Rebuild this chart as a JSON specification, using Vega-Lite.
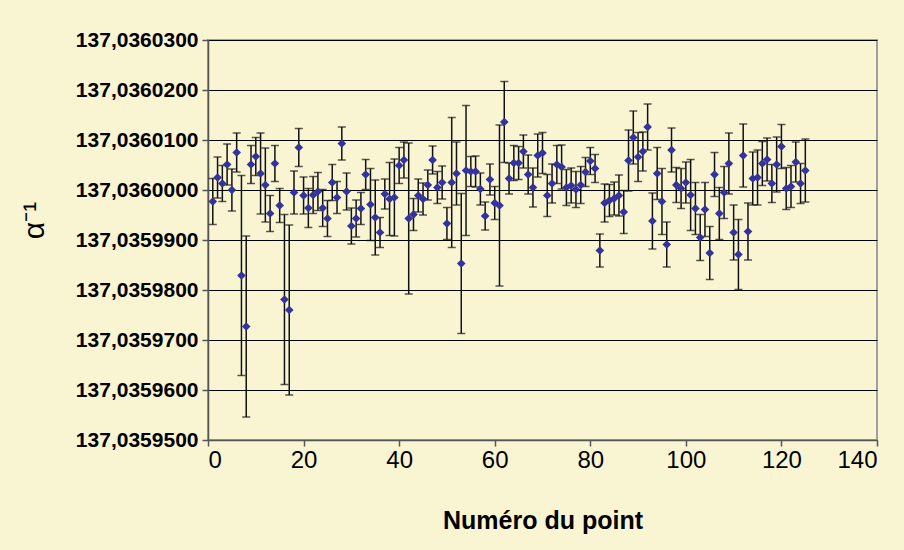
{
  "$schema": "https://vega.github.io/schema/vega-lite/v6.json",
  "width": 669,
  "height": 400,
  "autosize": {"type": "none"},
  "padding": {"left": 208, "top": 40, "right": 27, "bottom": 110},
  "background": "#F9F5D3",
  "config": {
    "view": {"stroke": "#A0A0A0", "strokeWidth": 2, "fill": "#F9F5D3"},
    "font": "Liberation Sans"
  },
  "data": {"values": [
    {"n":1,"a":137.0359977,"e":0.0000046},{"n":2,"a":137.0360025,"e":0.0000041},{"n":3,"a":137.0360013,"e":0.0000036},{"n":4,"a":137.0360051,"e":0.0000041},{"n":5,"a":137.036,"e":0.0000042},
    {"n":6,"a":137.0360075,"e":0.0000039},{"n":7,"a":137.0359829,"e":0.00002},{"n":8,"a":137.0359727,"e":0.0000181},{"n":9,"a":137.0360051,"e":0.0000038},{"n":10,"a":137.0360067,"e":0.0000038},
    {"n":11,"a":137.0360033,"e":0.0000081},{"n":12,"a":137.036001,"e":0.0000074},{"n":13,"a":137.0359953,"e":0.0000036},{"n":14,"a":137.0360053,"e":0.0000036},{"n":15,"a":137.0359969,"e":0.0000034},
    {"n":16,"a":137.0359781,"e":0.000017},{"n":17,"a":137.035976,"e":0.000017},{"n":18,"a":137.0359995,"e":0.0000043},{"n":19,"a":137.0360085,"e":0.0000038},{"n":20,"a":137.0359989,"e":0.0000037},
    {"n":21,"a":137.0359964,"e":0.0000039},{"n":22,"a":137.035999,"e":0.0000037},{"n":23,"a":137.0359997,"e":0.0000038},{"n":24,"a":137.0359964,"e":0.0000037},{"n":25,"a":137.0359943,"e":0.0000036},
    {"n":26,"a":137.0360015,"e":0.0000036},{"n":27,"a":137.0359985,"e":0.0000032},{"n":28,"a":137.0360093,"e":0.0000033},{"n":29,"a":137.0359997,"e":0.0000037},{"n":30,"a":137.0359928,"e":0.0000036},
    {"n":31,"a":137.0359943,"e":0.0000037},{"n":32,"a":137.0359963,"e":0.0000032},{"n":33,"a":137.0360031,"e":0.000003},{"n":34,"a":137.0359971,"e":0.0000072},{"n":35,"a":137.0359945,"e":0.0000075},
    {"n":36,"a":137.0359915,"e":0.000003},{"n":37,"a":137.0359992,"e":0.000003},{"n":38,"a":137.0359982,"e":0.0000073},{"n":39,"a":137.0359985,"e":0.0000077},{"n":40,"a":137.0360049,"e":0.0000036},
    {"n":41,"a":137.036006,"e":0.0000036},{"n":42,"a":137.0359943,"e":0.0000151},{"n":43,"a":137.0359951,"e":0.0000032},{"n":44,"a":137.0359989,"e":0.0000033},{"n":45,"a":137.0359982,"e":0.0000032},
    {"n":46,"a":137.036001,"e":0.000003},{"n":47,"a":137.036006,"e":0.0000028},{"n":48,"a":137.0360005,"e":0.0000032},{"n":49,"a":137.0360015,"e":0.0000033},{"n":50,"a":137.0359933,"e":0.0000032},
    {"n":51,"a":137.0360015,"e":0.000013},{"n":52,"a":137.0360033,"e":0.0000063},{"n":53,"a":137.0359853,"e":0.000014},{"n":54,"a":137.0360039,"e":0.000013},{"n":55,"a":137.0360037,"e":0.000003},
    {"n":56,"a":137.0360037,"e":0.0000031},{"n":57,"a":137.0360002,"e":0.0000032},{"n":58,"a":137.0359948,"e":0.0000028},{"n":59,"a":137.0360021,"e":0.0000031},{"n":60,"a":137.0359974,"e":0.0000033},
    {"n":61,"a":137.0359969,"e":0.0000161},{"n":62,"a":137.0360136,"e":0.0000081},{"n":63,"a":137.0360023,"e":0.0000031},{"n":64,"a":137.0360054,"e":0.0000035},{"n":65,"a":137.0360054,"e":0.0000033},
    {"n":66,"a":137.0360077,"e":0.0000033},{"n":67,"a":137.0360031,"e":0.0000039},{"n":68,"a":137.0360005,"e":0.0000039},{"n":69,"a":137.0360069,"e":0.0000043},{"n":70,"a":137.0360074,"e":0.0000041},
    {"n":71,"a":137.0359989,"e":0.0000042},{"n":72,"a":137.0360013,"e":0.0000039},{"n":73,"a":137.0360051,"e":0.0000038},{"n":74,"a":137.0360046,"e":0.0000044},{"n":75,"a":137.0360005,"e":0.0000036},
    {"n":76,"a":137.0360009,"e":0.0000035},{"n":77,"a":137.0360001,"e":0.0000036},{"n":78,"a":137.036001,"e":0.0000037},{"n":79,"a":137.0360036,"e":0.0000029},{"n":80,"a":137.0360058,"e":0.0000027},
    {"n":81,"a":137.0360043,"e":0.0000028},{"n":82,"a":137.0359879,"e":0.0000033},{"n":83,"a":137.0359974,"e":0.0000038},{"n":84,"a":137.0359979,"e":0.0000032},{"n":85,"a":137.0359983,"e":0.0000033},
    {"n":86,"a":137.0359989,"e":0.0000041},{"n":87,"a":137.0359956,"e":0.0000043},{"n":88,"a":137.0360059,"e":0.0000061},{"n":89,"a":137.0360105,"e":0.0000053},{"n":90,"a":137.0360066,"e":0.0000049},
    {"n":91,"a":137.0360077,"e":0.0000039},{"n":92,"a":137.0360126,"e":0.0000046},{"n":93,"a":137.0359938,"e":0.0000056},{"n":94,"a":137.0360033,"e":0.0000052},{"n":95,"a":137.0359977,"e":0.0000066},
    {"n":96,"a":137.0359891,"e":0.0000045},{"n":97,"a":137.036008,"e":0.0000044},{"n":98,"a":137.036001,"e":0.0000035},{"n":99,"a":137.0360003,"e":0.000004},{"n":100,"a":137.0360015,"e":0.0000041},
    {"n":101,"a":137.035999,"e":0.0000071},{"n":102,"a":137.0359963,"e":0.0000052},{"n":103,"a":137.0359905,"e":0.0000046},{"n":104,"a":137.0359961,"e":0.0000054},{"n":105,"a":137.0359874,"e":0.0000053},
    {"n":106,"a":137.0360031,"e":0.0000044},{"n":107,"a":137.0359953,"e":0.0000052},{"n":108,"a":137.0359995,"e":0.0000052},{"n":109,"a":137.0360053,"e":0.0000061},{"n":110,"a":137.0359915,"e":0.0000055},
    {"n":111,"a":137.0359871,"e":0.000007},{"n":112,"a":137.0360069,"e":0.0000063},{"n":113,"a":137.0359917,"e":0.0000057},{"n":114,"a":137.0360023,"e":0.0000053},{"n":115,"a":137.0360025,"e":0.0000055},
    {"n":116,"a":137.0360053,"e":0.0000044},{"n":117,"a":137.0360061,"e":0.0000043},{"n":118,"a":137.0360013,"e":0.0000038},{"n":119,"a":137.0360051,"e":0.0000055},{"n":120,"a":137.0360087,"e":0.0000044},
    {"n":121,"a":137.0360003,"e":0.0000042},{"n":122,"a":137.0360007,"e":0.0000042},{"n":123,"a":137.0360056,"e":0.000004},{"n":124,"a":137.0360013,"e":0.000004},{"n":125,"a":137.0360039,"e":0.0000063}
  ]},
  "encoding": {
    "x": {
      "field": "n", "type": "quantitative",
      "scale": {"domain": [0, 140], "nice": false, "zero": false},
      "axis": {
        "values": [0, 20, 40, 60, 80, 100, 120, 140],
        "grid": false,
        "title": "Numéro du point",
        "titleFont": "Liberation Sans", "titleFontSize": 25, "titleFontWeight": "bold", "titleColor": "#000000", "titlePadding": 36,
        "labelFont": "Liberation Sans", "labelFontSize": 24, "labelFontWeight": "normal", "labelColor": "#000000", "labelPadding": 2,
        "domainColor": "#555555", "domainWidth": 1.5, "tickColor": "#555555", "tickSize": 6, "tickWidth": 1.5
      }
    },
    "y": {
      "field": "a", "type": "quantitative",
      "scale": {"domain": [137.03595, 137.03603], "nice": false, "zero": false},
      "axis": {
        "values": [137.03595, 137.03596, 137.03597, 137.03598, 137.03599, 137.036, 137.03601, 137.03602, 137.03603],
        "labelExpr": "replace(format(datum.value, '.7f'), '.', ',')",
        "grid": true, "gridColor": "#000000", "gridWidth": 1, "gridOpacity": 1,
        "title": "α⁻¹",
        "titleFont": "Liberation Sans", "titleFontSize": 30, "titleFontWeight": "normal", "titleColor": "#000000",
        "titleAngle": -90, "titleBaseline": "middle", "titleAlign": "center", "titleX": -174, "titleY": 180,
        "labelFont": "Liberation Sans", "labelFontSize": 21, "labelFontWeight": "bold", "labelColor": "#000000", "labelPadding": 4,
        "domainColor": "#555555", "domainWidth": 1.5, "tickColor": "#555555", "tickSize": 6, "tickWidth": 1.5
      }
    }
  },
  "layer": [
    {
      "mark": {"type": "errorbar", "ticks": true, "color": "#111111", "thickness": 1.5, "size": 8},
      "encoding": {"yError": {"field": "e"}}
    },
    {
      "mark": {"type": "point", "shape": "diamond", "filled": true, "color": "#333399", "size": 75, "opacity": 1}
    }
  ]
}
